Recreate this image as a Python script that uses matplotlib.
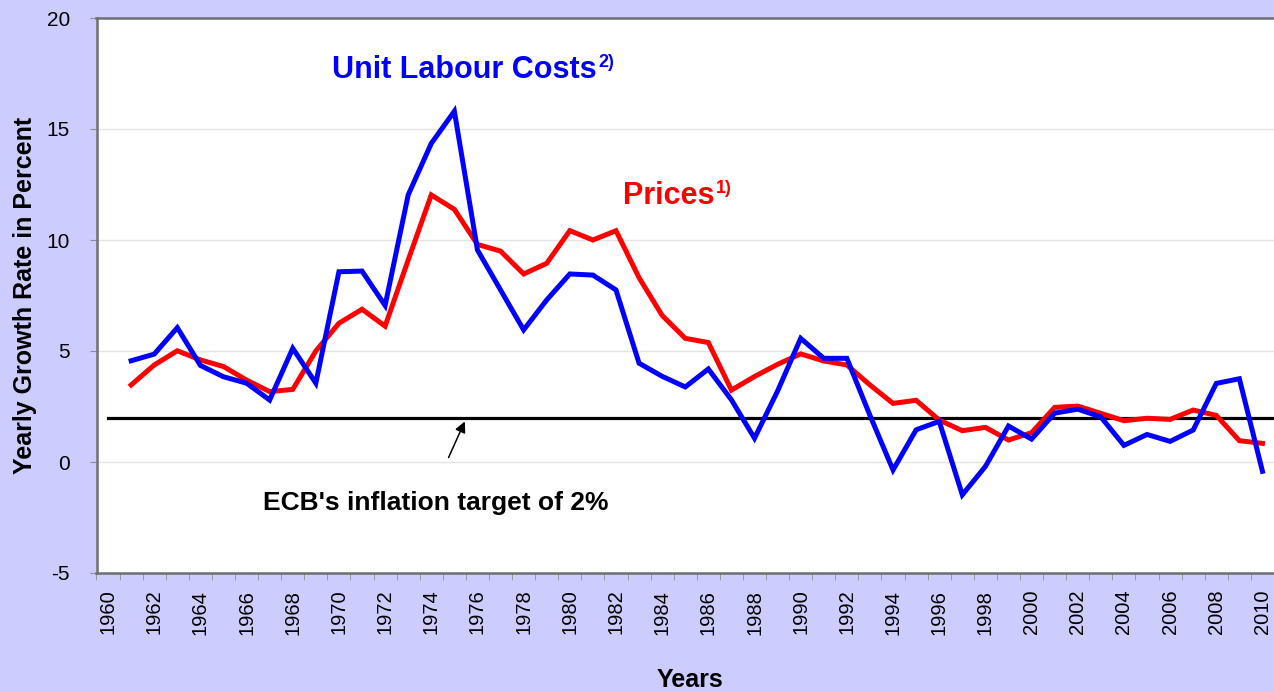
import matplotlib
matplotlib.use("Agg")
import matplotlib.pyplot as plt
import numpy as np

years = list(range(1961, 2011))
unit_labour_costs = [4.56, 4.86, 6.05, 4.35, 3.84, 3.55, 2.79, 5.12, 3.55, 8.57,
                     8.60, 7.05, 12.03, 14.35, 15.80, 9.55, 7.75, 5.95, 7.30, 8.47,
                     8.42, 7.75, 4.45, 3.86, 3.38, 4.19, 2.80, 1.07, 3.20, 5.57,
                     4.67, 4.67, 2.10, -0.36, 1.45, 1.83, -1.48, -0.20, 1.62, 1.03,
                     2.20, 2.38, 2.03, 0.75, 1.24, 0.93, 1.44, 3.54, 3.75, -0.42]
prices = [3.47, 4.37, 5.01, 4.60, 4.30, 3.69, 3.17, 3.27, 5.00, 6.25,
          6.88, 6.12, 9.10, 12.03, 11.38, 9.80, 9.50, 8.47, 8.95, 10.42,
          10.00, 10.42, 8.30, 6.60, 5.57, 5.38, 3.24, 3.85, 4.40, 4.87,
          4.55, 4.37, 3.47, 2.64, 2.78, 1.89, 1.41, 1.56, 0.99, 1.32,
          2.46, 2.52, 2.19, 1.86, 1.97, 1.92, 2.34, 2.10, 0.96, 0.84]
target_years = [1960, 2011]
target_value = [2, 2]
tick_years = list(range(1960, 2011, 2))
y_ticks = [-5, 0, 5, 10, 15, 20]

FONT = ['Liberation Sans', 'DejaVu Sans']
plt.rcParams['font.family'] = FONT

W, H = 1274, 692
fig = plt.figure(figsize=(W / 100, H / 100), dpi=100)
fig.patch.set_facecolor('#ccccff')

left, right, top, bottom = 96.5, 1274, 18, 573
px_per_year = 23.29
ax = fig.add_axes([left / W, 1 - bottom / H, (right - left) / W, (bottom - top) / H])
ax.set_facecolor('white')

ax.set_xlim(1959.5, 1959.5 + (right - left) / px_per_year)
ax.set_ylim(-5, 20)

for v in [0, 5, 10, 15]:
    ax.axhline(v, color='#e4e4e4', lw=1.0, zorder=0)

ax.plot(target_years, target_value, color='black', lw=2.3, zorder=2)
ax.plot(years, prices, color='#ff0000', lw=3.6, zorder=3, solid_joinstyle='miter')
ax.plot(years, unit_labour_costs, color='#0000ff', lw=3.6, zorder=4, solid_joinstyle='miter')

ax.set_yticks(y_ticks)
ax.set_yticklabels([str(v) for v in y_ticks], fontsize=15)
ax.set_xticks(tick_years)
ax.set_xticklabels([str(y) for y in tick_years], rotation=90, fontsize=14.5)
ax.set_xticks(np.arange(1959.5, 2011, 1.0), minor=True)
ax.tick_params(axis='x', which='major', length=0, pad=12)
ax.tick_params(axis='x', which='minor', length=5, color='#909090', direction='out')
ax.tick_params(axis='y', which='major', length=5, color='#909090', direction='out', pad=14)

for s in ['left', 'top', 'bottom']:
    ax.spines[s].set_color('#707070')
    ax.spines[s].set_linewidth(1.8)
ax.spines['right'].set_visible(False)

t1 = ax.text(1969.7, 17.66, 'Unit Labour Costs', color='#0000ff', fontsize=22,
             fontweight='bold', ha='left', va='center')
ax.annotate('2)', xy=(1, 1), xycoords=t1, xytext=(1, 1), textcoords='offset points',
            color='#0000ff', fontsize=13, fontweight='bold', ha='left', va='top')
t2 = ax.text(1982.3, 11.98, 'Prices', color='#ff0000', fontsize=22,
             fontweight='bold', ha='left', va='center')
ax.annotate('1)', xy=(1, 1), xycoords=t2, xytext=(1, 1), textcoords='offset points',
            color='#ff0000', fontsize=13, fontweight='bold', ha='left', va='top')

ax.text(1966.7, -1.85, "ECB's inflation target of 2%", color='black', fontsize=19,
        fontweight='bold', ha='left', va='center')
ax.annotate('', xy=(1975.5, 1.94), xytext=(1974.7, 0.09),
            arrowprops=dict(arrowstyle='-|>', color='black', lw=1.1,
                            mutation_scale=16))

fig.text(25 / W, 1 - 295 / H, 'Yearly Growth Rate in Percent', rotation=90,
         fontsize=18, fontweight='bold', ha='center', va='center')
fig.text(690 / W, 1 - 680 / H, 'Years', fontsize=18, fontweight='bold',
         ha='center', va='center')

fig.savefig('out.png', dpi=100, facecolor=fig.get_facecolor())
